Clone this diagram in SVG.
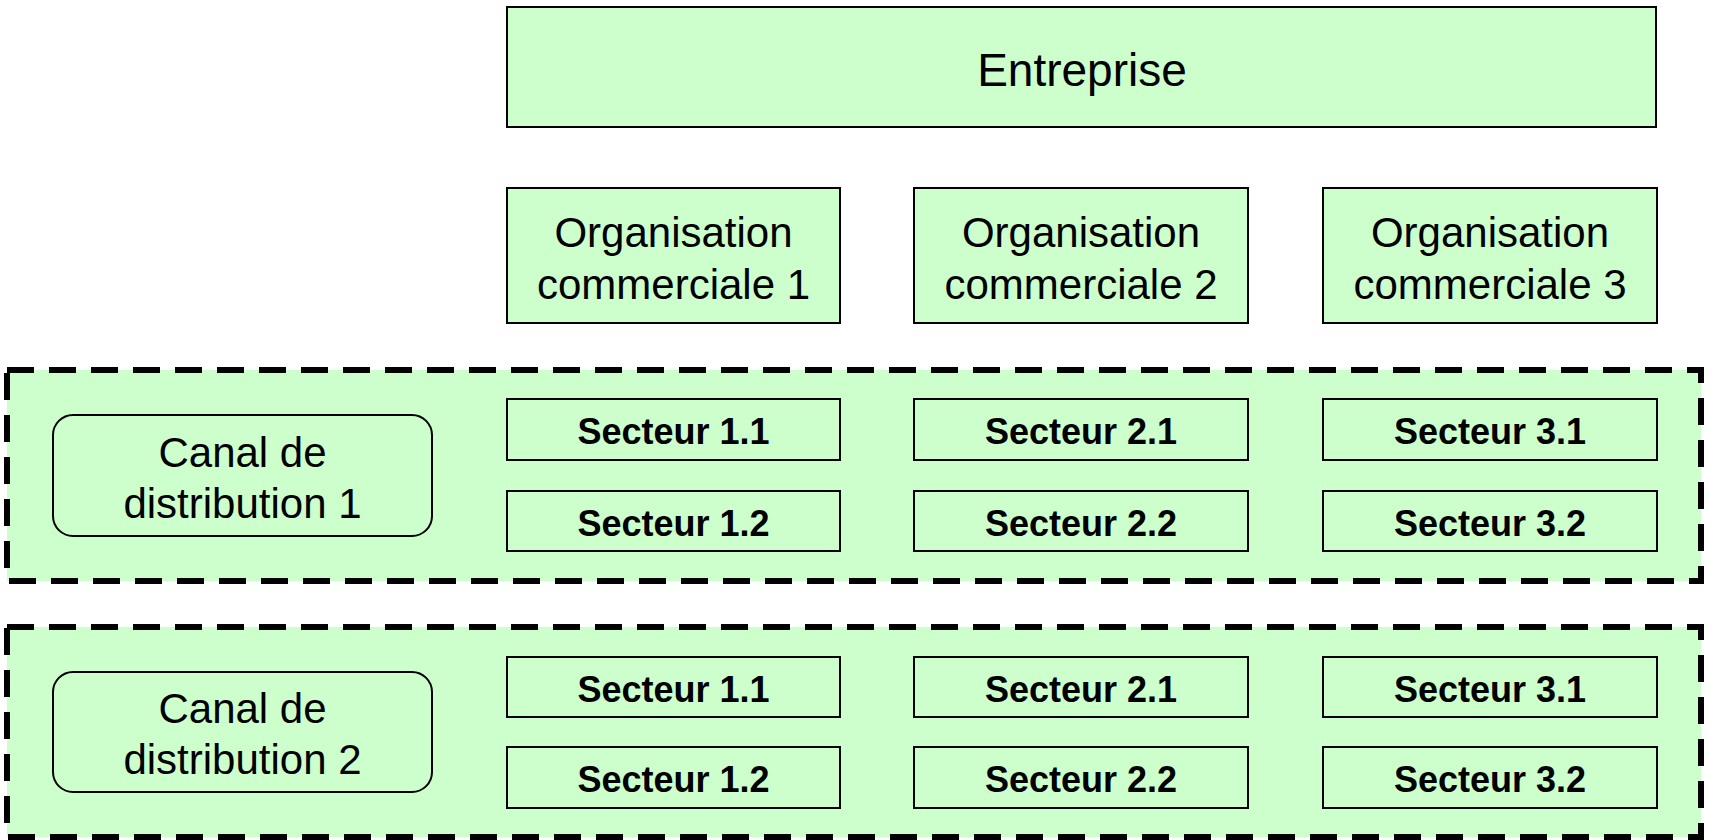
<svg xmlns="http://www.w3.org/2000/svg" width="1709" height="840" viewBox="0 0 1709 840">
<style>
.box{fill:#CCFFCC;stroke:#000;stroke-width:2}
.grp{fill:#CCFFCC;stroke:#000;stroke-width:6;stroke-dasharray:27 15}
.t{font-family:"Liberation Sans",Arial,sans-serif;fill:#000;text-anchor:middle}
.r{font-size:42px}
.e{font-size:46px}
.b{font-size:36px;font-weight:bold}
</style>
<rect width="1709" height="840" fill="#fff"/>
<g id="group1"><rect class="grp" x="7" y="370" width="1694" height="211"/></g>
<g id="group2"><rect class="grp" x="7" y="627" width="1694" height="210"/></g>
<g id="entreprise"><rect class="box" x="507" y="7" width="1149" height="120"/><text class="t e" x="1082" y="86">Entreprise</text></g>
<g id="org1"><rect class="box" x="507" y="188" width="333" height="135"/><text class="t r" x="673.5" y="247">Organisation</text><text class="t r" x="673.5" y="299">commerciale 1</text></g>
<g id="org2"><rect class="box" x="914" y="188" width="334" height="135"/><text class="t r" x="1081" y="247">Organisation</text><text class="t r" x="1081" y="299">commerciale 2</text></g>
<g id="org3"><rect class="box" x="1323" y="188" width="334" height="135"/><text class="t r" x="1490" y="247">Organisation</text><text class="t r" x="1490" y="299">commerciale 3</text></g>
<g id="canal1"><rect class="box" x="53" y="415" width="379" height="121" rx="20"/><text class="t r" x="242.5" y="467">Canal de</text><text class="t r" x="242.5" y="518">distribution 1</text></g>
<g id="canal2"><rect class="box" x="53" y="672" width="379" height="120" rx="20"/><text class="t r" x="242.5" y="723">Canal de</text><text class="t r" x="242.5" y="774">distribution 2</text></g>
<g id="s1-11"><rect class="box" x="507" y="399" width="333" height="61"/><text class="t b" x="673.5" y="444">Secteur 1.1</text></g>
<g id="s1-12"><rect class="box" x="507" y="491" width="333" height="60"/><text class="t b" x="673.5" y="535.5">Secteur 1.2</text></g>
<g id="s1-21"><rect class="box" x="914" y="399" width="334" height="61"/><text class="t b" x="1081" y="444">Secteur 2.1</text></g>
<g id="s1-22"><rect class="box" x="914" y="491" width="334" height="60"/><text class="t b" x="1081" y="535.5">Secteur 2.2</text></g>
<g id="s1-31"><rect class="box" x="1323" y="399" width="334" height="61"/><text class="t b" x="1490" y="444">Secteur 3.1</text></g>
<g id="s1-32"><rect class="box" x="1323" y="491" width="334" height="60"/><text class="t b" x="1490" y="535.5">Secteur 3.2</text></g>
<g id="s2-11"><rect class="box" x="507" y="657" width="333" height="60"/><text class="t b" x="673.5" y="701.5">Secteur 1.1</text></g>
<g id="s2-12"><rect class="box" x="507" y="747" width="333" height="61"/><text class="t b" x="673.5" y="792">Secteur 1.2</text></g>
<g id="s2-21"><rect class="box" x="914" y="657" width="334" height="60"/><text class="t b" x="1081" y="701.5">Secteur 2.1</text></g>
<g id="s2-22"><rect class="box" x="914" y="747" width="334" height="61"/><text class="t b" x="1081" y="792">Secteur 2.2</text></g>
<g id="s2-31"><rect class="box" x="1323" y="657" width="334" height="60"/><text class="t b" x="1490" y="701.5">Secteur 3.1</text></g>
<g id="s2-32"><rect class="box" x="1323" y="747" width="334" height="61"/><text class="t b" x="1490" y="792">Secteur 3.2</text></g>
<g id="connectors"></g>
</svg>
